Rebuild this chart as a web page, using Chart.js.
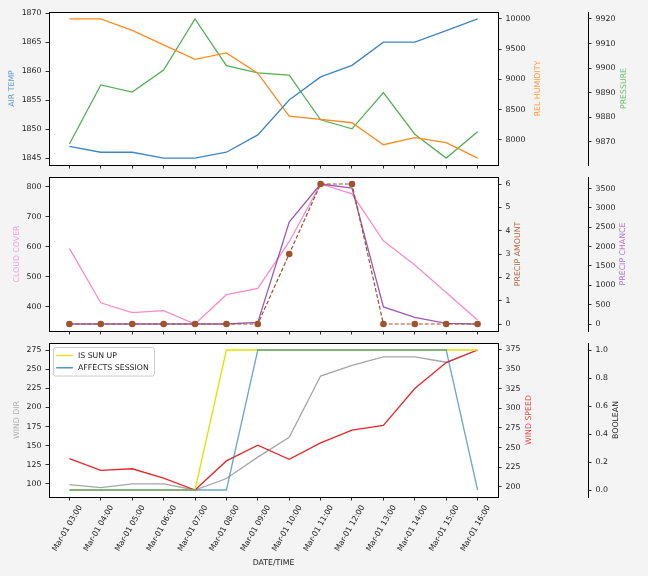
<!DOCTYPE html>
<html><head><meta charset="utf-8">
<script src="https://cdn.jsdelivr.net/npm/chart.js@4.4.1/dist/chart.umd.min.js"></script>
<style>
html,body{margin:0;padding:0;background:#f4f4f4;}
#wrap{position:relative;width:648px;height:576px;overflow:hidden;}
canvas{position:absolute;left:0;top:0;}
</style></head><body>
<div id="wrap">
<canvas id="c1" width="648" height="576"></canvas>
<canvas id="c2" width="648" height="576"></canvas>
<canvas id="c3" width="648" height="576"></canvas>
</div>
<script>
// ---------- data ----------
const timeLabels = ["Mar-01 03:00","Mar-01 04:00","Mar-01 05:00","Mar-01 06:00","Mar-01 07:00","Mar-01 08:00","Mar-01 09:00","Mar-01 10:00","Mar-01 11:00","Mar-01 12:00","Mar-01 13:00","Mar-01 14:00","Mar-01 15:00","Mar-01 16:00"];
const airTemp = [1847,1846,1846,1845,1845,1846,1849,1855,1859,1861,1865,1865,1867,1869];
const relHumidity = [10000,10000,9812,9570,9332,9438,9101,8390,8336,8281,7917,8033,7950,7696];
const pressure = [9869,9893.1,9890.2,9899.2,9920,9901,9898,9897.1,9878.9,9875.2,9890,9873,9863.3,9874];
const cloudCover = [595,413,380,387,342,440,461,617,810,777,620,539,447,355];
const precipAmount = [0,0,0,0,0,0,0,3,6,6,0,0,0,0];
const precipChance = [0,0,0,0,0,0,40,2637,3620,3517,440,171,15,0];
const windDir = [99,95,100,100,92,107,135,161,241,255,266,266,259,275];
const windSpeed = [236,221,223,211,196,233,253,235,256,272,278,325,358,374];
const isSunUp = [0,0,0,0,0,1,1,1,1,1,1,1,1,1];
const affectsSession = [0,0,0,0,0,0,1,1,1,1,1,1,1,0];

const airTempTicks = [1845,1850,1855,1860,1865,1870];
const relHumidityTicks = [8000,8500,9000,9500,10000];
const pressureTicks = [9870,9880,9890,9900,9910,9920];
const cloudCoverTicks = [400,500,600,700,800];
const precipAmountTicks = [0,1,2,3,4,5,6];
const precipChanceTicks = [0,500,1000,1500,2000,2500,3000,3500];
const windDirTicks = [100,125,150,175,200,225,250,275];
const windSpeedTicks = [200,225,250,275,300,325,350,375];
const booleanTicks = [0,0.2,0.4,0.6,0.8,1.0];

// ---------- helpers ----------
const FONT = "'DejaVu Sans', sans-serif";
Chart.defaults.font.family = FONT;
Chart.defaults.font.size = 7.8;
Chart.defaults.color = '#222';

function range(arr){ const lo=Math.min(...arr), hi=Math.max(...arr), m=(hi-lo)*0.05; return {min:lo-m, max:hi+m}; }
function pts(arr){ return arr.map((v,i)=>({x:i,y:v})); }

function yAxis(pos, ticks, data, width, weight, fmt, showBorder){
  const r = range(data);
  return {
    type:'linear', position:pos, weight:weight, min:r.min, max:r.max, bounds:'data',
    afterBuildTicks: s => { s.ticks = ticks.map(v=>({value:v})); },
    afterFit: s => { s.width = width; },
    ticks:{ padding:4, color:'#222', callback: fmt || (v=>String(v)) },
    grid:{ drawOnChartArea:false, drawTicks:true, tickLength:3.5, color:'#000', lineWidth:0.8 },
    border:{ display:showBorder, color:'#000', width:1 }
  };
}
function xAxis(showLabels, height){
  return {
    type:'linear', position:'bottom', min:-0.65, max:13.65, bounds:'data',
    afterBuildTicks: s => { s.ticks = timeLabels.map((_,i)=>({value:i})); },
    afterFit: s => { s.height = height; },
    ticks:{ display:showLabels, autoSkip:false, minRotation:60, maxRotation:60, padding:3, labelOffset:11, color:'#222',
            callback: v => timeLabels[v] },
    grid:{ drawOnChartArea:false, drawTicks:true, tickLength:3.5, color:'#000', lineWidth:0.8 },
    border:{ display:false }
  };
}
function line(label, data, color, axis, extra){
  return Object.assign({ label:label, data:pts(data), yAxisID:axis, borderColor:color, backgroundColor:color,
    borderWidth:1.3, pointRadius:0, tension:0, fill:false }, extra||{});
}

const framePlugin = {
  id:'frame',
  beforeDraw(chart){
    const {ctx, chartArea:a} = chart;
    ctx.save(); ctx.fillStyle='#fff'; ctx.fillRect(a.left,a.top,a.right-a.left,a.bottom-a.top); ctx.restore();
  },
  afterDraw(chart, args, opts){
    const {ctx, chartArea:a} = chart;
    ctx.save();
    ctx.strokeStyle='#000'; ctx.lineWidth=1;
    ctx.strokeRect(Math.round(a.left)+0.5, Math.round(a.top)+0.5, Math.round(a.right)-Math.round(a.left), Math.round(a.bottom)-Math.round(a.top));
    const cy = (a.top+a.bottom)/2;
    (opts.titles||[]).forEach(t=>{
      ctx.save();
      ctx.translate(t.x, t.y!==undefined ? t.y : cy);
      if(!t.horizontal) ctx.rotate(-Math.PI/2);
      ctx.fillStyle=t.color; ctx.font='7.8px '+FONT; ctx.textAlign='center'; ctx.textBaseline='middle';
      ctx.fillText(t.text,0,0);
      ctx.restore();
    });
    if(opts.legend){
      const items = chart.data.datasets.filter(d=>d.inLegend);
      const bx = a.left+4.5, by = a.top+4.5, bw = 101, bh = 28.5;
      ctx.fillStyle='rgba(255,255,255,0.8)'; ctx.strokeStyle='#cccccc'; ctx.lineWidth=1;
      ctx.beginPath();
      if(ctx.roundRect) ctx.roundRect(bx,by,bw,bh,2); else ctx.rect(bx,by,bw,bh);
      ctx.fill(); ctx.stroke();
      items.forEach((d,i)=>{
        const y = by + 8 + i*12.3;
        ctx.strokeStyle=d.legendColor||d.borderColor; ctx.lineWidth=1.3;
        ctx.beginPath(); ctx.moveTo(bx+2.7,y); ctx.lineTo(bx+19.4,y); ctx.stroke();
        ctx.fillStyle='#222'; ctx.font='7.8px '+FONT; ctx.textAlign='left'; ctx.textBaseline='middle';
        ctx.fillText(d.label, bx+24.4, y);
      });
    }
    ctx.restore();
  }
};

const base = { responsive:false, animation:false, events:[] };

// ---------- panel 1 ----------
new Chart(document.getElementById('c1'), {
  type:'line',
  data:{ datasets:[
    line('AIR TEMP', airTemp, '#3d85c6', 'yAir', {order:1}),
    line('REL HUMIDITY', relHumidity, '#ff8a1f', 'yHum', {order:2}),
    line('PRESSURE', pressure, '#55b055', 'yPres', {order:3})
  ]},
  options:Object.assign({}, base, {
    layout:{ padding:{left:0,right:0,top:12,bottom:401} },
    scales:{
      x: xAxis(false, 10),
      yAir: yAxis('left', airTempTicks, airTemp, 49, 0, null, false),
      yHum: yAxis('right', relHumidityTicks, relHumidity, 90, 0, null, false),
      yPres: yAxis('right', pressureTicks, pressure, 60, 1, null, true)
    },
    plugins:{ legend:{display:false}, tooltip:{enabled:false},
      frame:{ titles:[
        {text:'AIR TEMP', x:12, color:'#5a9bd0'},
        {text:'REL HUMIDITY', x:538, color:'#ff9a3c'},
        {text:'PRESSURE', x:623.5, color:'#6cc06c'}
      ]}}
  }),
  plugins:[framePlugin]
});

// ---------- panel 2 ----------
new Chart(document.getElementById('c2'), {
  type:'line',
  data:{ datasets:[
    line('CLOUD COVER', cloudCover, '#f98cc8', 'yCloud', {order:3}),
    line('PRECIP AMOUNT', precipAmount, '#a0522d', 'yAmt', {order:1, borderDash:[4,2], borderWidth:1.2, pointRadius:3.3, pointBorderWidth:0, pointBackgroundColor:'#a0522d'}),
    line('PRECIP CHANCE', precipChance, 'rgba(140,60,170,0.85)', 'yChance', {order:2})
  ]},
  options:Object.assign({}, base, {
    layout:{ padding:{left:0,right:0,top:177,bottom:235} },
    scales:{
      x: xAxis(false, 10),
      yCloud: yAxis('left', cloudCoverTicks, cloudCover, 49, 0, null, false),
      yAmt: yAxis('right', precipAmountTicks, precipAmount, 90, 0, null, false),
      yChance: yAxis('right', precipChanceTicks, precipChance, 60, 1, null, true)
    },
    plugins:{ legend:{display:false}, tooltip:{enabled:false},
      frame:{ titles:[
        {text:'CLOUD COVER', x:16.5, color:'#f7a0d0'},
        {text:'PRECIP AMOUNT', x:517.5, color:'#b5653a'},
        {text:'PRECIP CHANCE', x:622.5, color:'#ac74c4'}
      ]}}
  }),
  plugins:[framePlugin]
});

// ---------- panel 3 ----------
new Chart(document.getElementById('c3'), {
  type:'line',
  data:{ datasets:[
    line('WIND DIR', windDir, '#a6a6a6', 'yDir', {order:4}),
    line('WIND SPEED', windSpeed, '#e8262a', 'ySpeed', {order:3}),
    line('IS SUN UP', isSunUp, '#e2e200', 'yBool', {order:2, inLegend:true}),
    line('AFFECTS SESSION', affectsSession, 'rgba(31,119,180,0.65)', 'yBool', {order:1, inLegend:true, legendColor:'#3a84be'})
  ]},
  options:Object.assign({}, base, {
    layout:{ padding:{left:0,right:0,top:343,bottom:0} },
    scales:{
      x: xAxis(true, 79),
      yDir: yAxis('left', windDirTicks, windDir, 49, 0, null, false),
      ySpeed: yAxis('right', windSpeedTicks, windSpeed, 90, 0, null, false),
      yBool: yAxis('right', booleanTicks, isSunUp.concat(affectsSession), 60, 1, v=>v.toFixed(1), true)
    },
    plugins:{ legend:{display:false}, tooltip:{enabled:false},
      frame:{ legend:true, titles:[
        {text:'WIND DIR', x:16.5, color:'#b0b0b0'},
        {text:'WIND SPEED', x:528.5, color:'#e84848'},
        {text:'BOOLEAN', x:616, color:'#222'},
        {text:'DATE/TIME', x:273.5, y:562.5, horizontal:true, color:'#222'}
      ]}}
  }),
  plugins:[framePlugin]
});
</script>
</body></html>
